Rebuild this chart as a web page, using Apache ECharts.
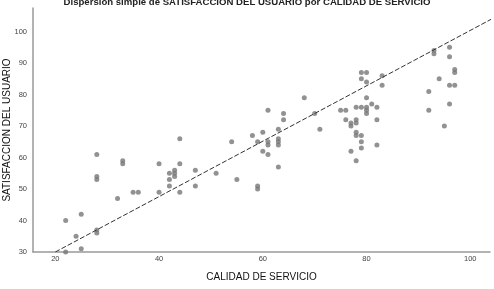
<!DOCTYPE html>
<html>
<head>
<meta charset="utf-8">
<script src="https://cdn.jsdelivr.net/npm/echarts@6/dist/echarts.min.js"></script>
<style>
  html, body { margin: 0; padding: 0; background: #fff; }
  #chart { width: 494px; height: 289px; }
</style>
</head>
<body>
<div id="chart"></div>
<script>
// CALIDAD DE SERVICIO (x) / SATISFACCION DEL USUARIO (y)
var calidad = [22, 22, 25, 24, 25, 28, 28, 28, 28, 28, 32, 33, 33, 35, 36, 40, 40, 42, 42, 42, 43, 43, 43, 44, 44, 44,
  47, 47, 51, 54, 55, 58, 59, 59, 59, 60, 60, 61, 61, 61, 61, 63, 63, 63, 63, 63, 64, 64, 68, 70, 71,
  79, 80, 79, 80, 83, 83, 80, 81, 82, 75, 76, 78, 79, 80, 80, 80, 82, 76, 77, 77, 78, 78, 78, 78, 79, 79, 79, 82, 77, 78,
  93, 93, 96, 96, 97, 97, 94, 96, 97, 92, 96, 92, 95];
var satisfaccion = [40, 30, 42, 35, 31, 61, 54, 53, 37, 36, 47, 59, 58, 49, 49, 58, 49, 55, 53, 51, 56, 55, 54, 58, 66, 49,
  56, 51, 55, 65, 53, 67, 65, 51, 50, 68, 62, 75, 65, 64, 61, 69, 66, 65, 64, 57, 74, 72, 79, 74, 69,
  87, 87, 85, 84, 86, 83, 79, 77, 76, 75, 75, 76, 76, 76, 75, 74, 72, 72, 71, 70, 72, 71, 68, 67, 67, 65, 63, 64, 62, 59,
  94, 93, 95, 92, 88, 87, 85, 83, 83, 81, 77, 75, 70];
var xTicks = [20, 40, 60, 80, 100];
var yTicks = [30, 40, 50, 60, 70, 80, 90, 100];
// recta de ajuste total, extremos
var ajusteX = [20, 104];
var ajusteY = [30, 103.9];

var puntos = [];
for (var i = 0; i < calidad.length; i++) {
  puntos.push([calidad[i], satisfaccion[i]]);
}
var ajuste = [];
for (var k = 0; k < ajusteX.length; k++) {
  ajuste.push([ajusteX[k], ajusteY[k]]);
}

var chart = echarts.init(document.getElementById('chart'));
chart.setOption({
  animation: false,
  title: {
    text: 'Dispersión simple de SATISFACCION DEL USUARIO por CALIDAD DE SERVICIO',
    left: 'center',
    top: -8,
    textStyle: { fontFamily: 'Liberation Sans', fontSize: 9.6, fontWeight: 'bold', color: '#222' }
  },
  grid: { left: 33, right: 4, top: 8, bottom: 37, outerBoundsMode: 'none' },
  xAxis: {
    type: 'value',
    min: 15.7,
    max: 103.8,
    name: 'CALIDAD DE SERVICIO',
    nameLocation: 'middle',
    nameGap: 20,
    nameMoveOverlap: false,
    nameTextStyle: { fontFamily: 'Liberation Sans', fontSize: 10, color: '#111' },
    axisLine: { show: true, lineStyle: { color: '#999', width: 1.5 } },
    axisTick: { show: false },
    splitLine: { show: false },
    axisLabel: {
      customValues: xTicks,
      margin: 3,
      fontFamily: 'Liberation Sans',
      fontSize: 7.5,
      color: '#444'
    }
  },
  yAxis: {
    type: 'value',
    min: 30,
    max: 107.5,
    name: 'SATISFACCION DEL USUARIO',
    nameLocation: 'middle',
    nameGap: 21,
    nameMoveOverlap: false,
    nameTextStyle: { fontFamily: 'Liberation Sans', fontSize: 10, color: '#111' },
    axisLine: { show: true, lineStyle: { color: '#999', width: 1.5 } },
    axisTick: { show: false },
    splitLine: { show: false },
    axisLabel: {
      customValues: yTicks,
      margin: 6,
      fontFamily: 'Liberation Sans',
      fontSize: 7.5,
      color: '#444'
    }
  },
  series: [
    {
      type: 'scatter',
      data: puntos,
      symbolSize: 5,
      itemStyle: { color: '#777' }
    },
    {
      type: 'line',
      data: ajuste,
      symbol: 'none',
      clip: true,
      lineStyle: { color: '#333', width: 1, type: [5, 2] }
    }
  ]
});
</script>
</body>
</html>
